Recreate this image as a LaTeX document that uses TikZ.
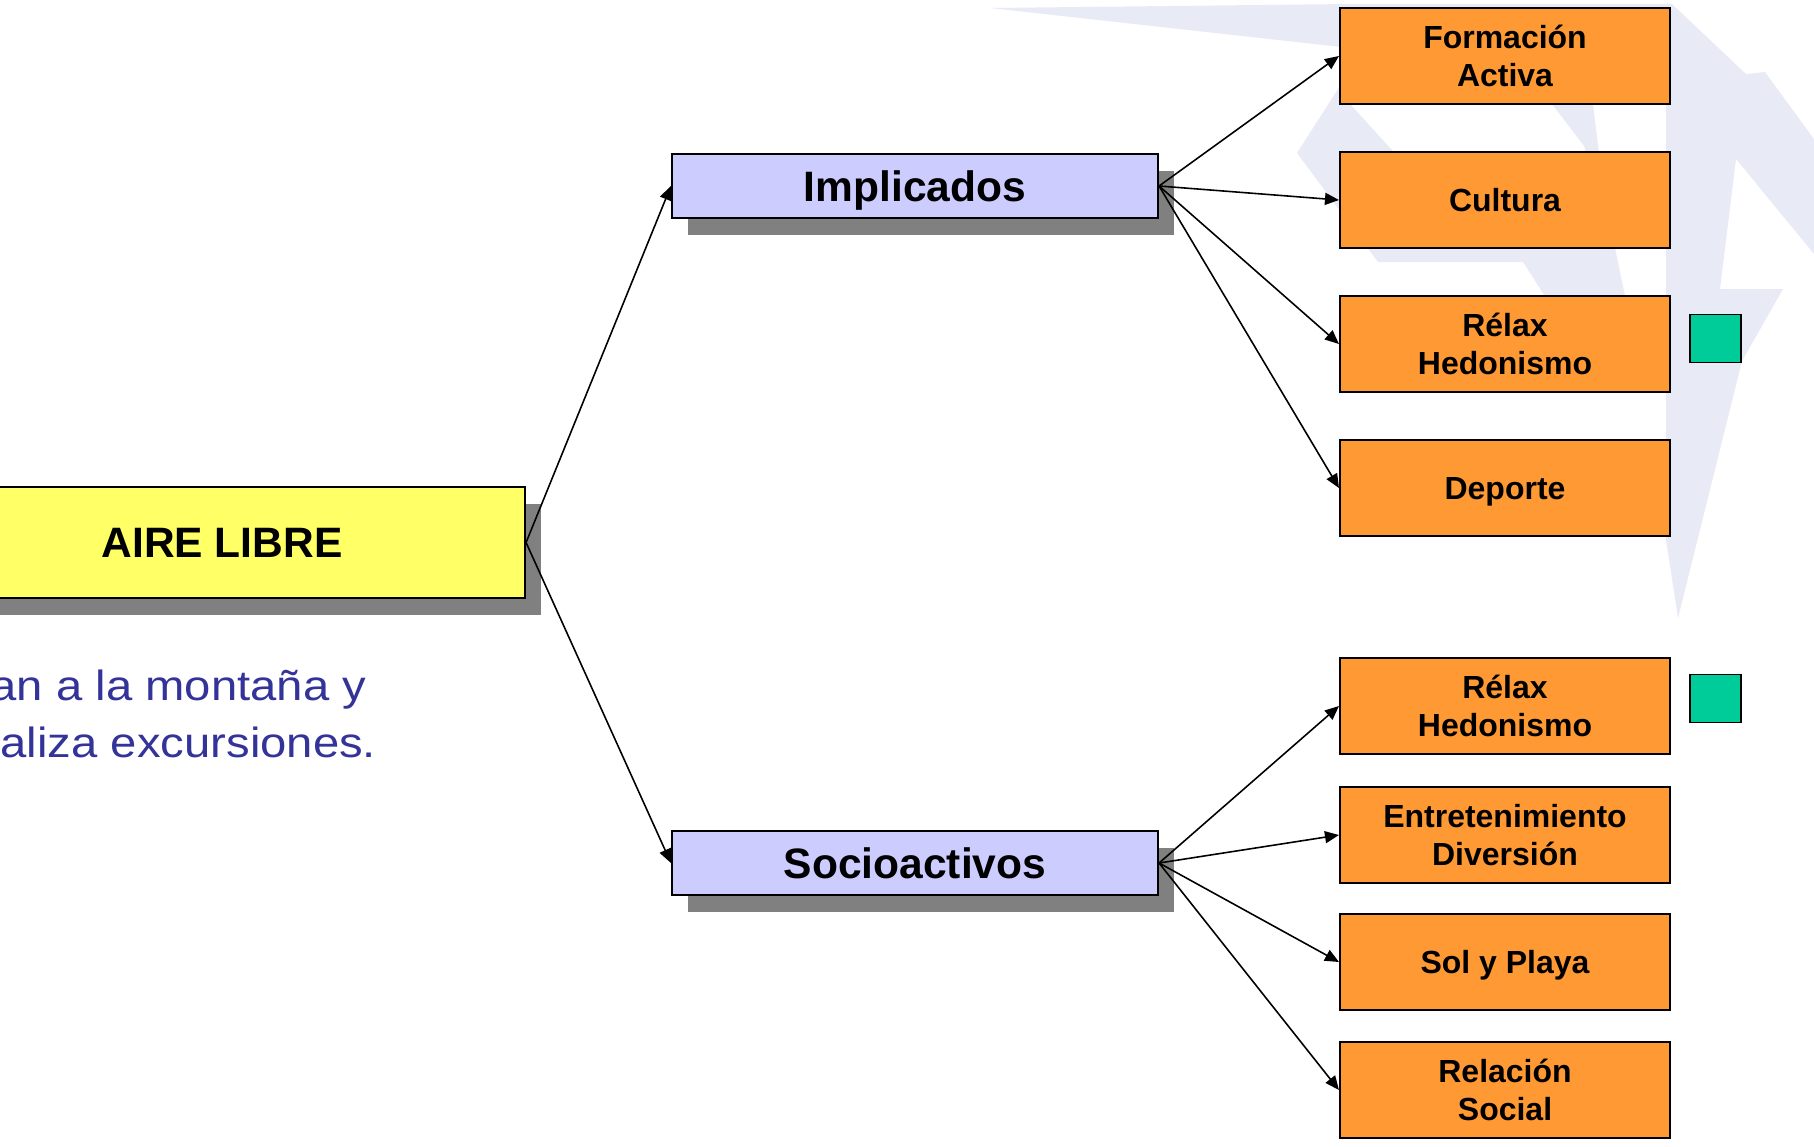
\documentclass[tikz,border=0pt]{standalone}
\usepackage{fontspec}
\setmainfont{Liberation Sans}
\newfontfamily\ancha[FakeStretch=1.12]{Liberation Sans}
\usetikzlibrary{arrows.meta,shadows}
\definecolor{marca}{RGB}{232,234,246}
\definecolor{amarillo}{RGB}{255,255,102}
\definecolor{lila}{RGB}{204,204,255}
\definecolor{naranja}{RGB}{255,153,51}
\definecolor{verde}{RGB}{0,204,153}
\definecolor{azul}{RGB}{51,51,153}

\begin{document}
\begin{tikzpicture}[
  caja/.style={draw,line width=0.6pt,inner sep=0pt,align=center,text depth=0pt,
    drop shadow={shadow xshift=0.16cm,shadow yshift=-0.17cm,fill=black!50,opacity=1},
    font=\fontsize{12.1}{14.5}\selectfont\bfseries},
  motivo/.style={draw,line width=0.6pt,fill=naranja,minimum width=3.3cm,minimum height=0.96cm,
    inner sep=0pt,align=center,text depth=0pt,font=\fontsize{9.1}{10.9}\selectfont\bfseries},
  marcador/.style={draw,line width=0.5pt,fill=verde,minimum width=0.51cm,minimum height=0.48cm,inner sep=0pt},
  nota/.style={anchor=base west,inner sep=0pt,text=azul,font=\ancha\fontsize{12}{14}\selectfont},
  flecha/.style={line width=0.45pt,-{Triangle[length=0.14cm,width=0.12cm]}}]
\useasboundingbox (0,0) rectangle (18.14,-11.46);
\clip (0,0) rectangle (18.14,-11.46);

% fondo
\fill[marca] (9.90,-0.08) -- (13.50,-0.04) -- (13.50,-0.48) -- cycle;
\fill[marca] (13.40,-0.04) -- (16.72,-0.04) -- (17.46,-0.74) -- (17.65,-0.72) -- (18.14,-1.39) -- (18.14,-2.54) -- (17.36,-1.59) -- (17.20,-2.89) -- (17.83,-2.89) -- (17.42,-3.61) -- (16.78,-6.18) -- (16.66,-5.40) -- (16.66,-0.50) -- (13.40,-0.50) -- cycle;
\fill[marca] (13.45,-0.78) -- (12.97,-1.53) -- (13.78,-2.62) -- (15.23,-2.62) -- (15.60,-3.20) -- (16.30,-3.20) -- (16.15,-2.48) -- (15.98,-1.46) -- (15.93,-1.04) -- (15.72,-0.90) -- (15.52,-1.04) -- (15.84,-1.46) -- (16.00,-2.00) -- (14.40,-2.00) -- (13.91,-1.49) -- (13.50,-1.04) -- cycle;

\node[caja,fill=amarillo,minimum width=6.06cm,minimum height=1.11cm] (a0) at (2.22,-5.425) {AIRE LIBRE};
\node[nota] (t1) at (-0.10,-7.00) {an a la montaña y};
\node[nota] (t2) at (0.00,-7.57) {aliza excursiones.};

\node[caja,fill=lila,minimum width=4.86cm,minimum height=0.64cm] (b1) at (9.15,-1.86) {Implicados};
\node[caja,fill=lila,minimum width=4.86cm,minimum height=0.64cm] (b2) at (9.15,-8.63) {Socioactivos};

\node[motivo] (m1) at (15.05,-0.56) {Formación\\Activa};
\node[motivo] (m2) at (15.05,-2.00) {Cultura};
\node[motivo] (m3) at (15.05,-3.44) {Rélax\\Hedonismo};
\node[motivo] (m4) at (15.05,-4.88) {Deporte};
\node[motivo] (m5) at (15.05,-7.06) {Rélax\\Hedonismo};
\node[motivo] (m6) at (15.05,-8.35) {Entretenimiento\\Diversión};
\node[motivo] (m7) at (15.05,-9.62) {Sol y Playa};
\node[motivo] (m8) at (15.05,-10.90) {Relación\\Social};

\node[marcador] (v1) at (17.155,-3.385) {};
\node[marcador] (v2) at (17.155,-6.985) {};

\draw[flecha] (a0.east) -- (b1.west);
\draw[flecha] (a0.east) -- (b2.west);
\draw[flecha] (b1.east) -- (m1.west);
\draw[flecha] (b1.east) -- (m2.west);
\draw[flecha] (b1.east) -- (m3.west);
\draw[flecha] (b1.east) -- (m4.west);
\draw[flecha] (b2.east) -- (m5.west);
\draw[flecha] (b2.east) -- (m6.west);
\draw[flecha] (b2.east) -- (m7.west);
\draw[flecha] (b2.east) -- (m8.west);
\end{tikzpicture}
\end{document}
